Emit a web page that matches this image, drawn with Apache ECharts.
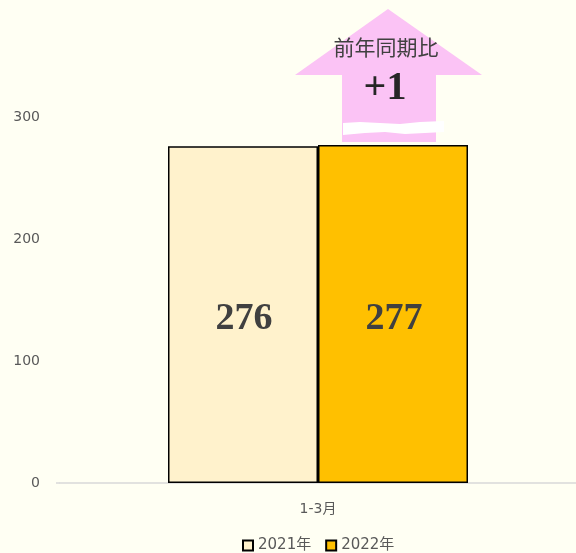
<!DOCTYPE html>
<html><head><meta charset="utf-8">
<script src="https://cdn.jsdelivr.net/npm/echarts@6/dist/echarts.min.js"></script>
<style>html,body{margin:0;padding:0;background:#FFFFF3;}#c{width:576px;height:553px;}</style>
</head><body><div id="c"></div>
<script>
const categories = ['1-3月'];
const seriesNames = ['2021年', '2022年'];
const values2021 = [276];
const values2022 = [277];
const yTicks = [0, 100, 200, 300];
const arrowTitle = '前年同期比';
const arrowValue = '+1';

const chart = echarts.init(document.getElementById('c'));
const labelStyle = {
  show: true, position: 'inside', offset: [1, 5], fontFamily: '"Liberation Serif","Times New Roman",serif',
  fontWeight: 'bold', fontSize: 38, color: '#404040'
};
chart.setOption({
  backgroundColor: '#FFFFF3',
  animation: false,
  grid: { left: 60, right: 0, top: 117, bottom: 70 },
  legend: {
    top: 533, left: 237, itemWidth: 10, itemHeight: 10, itemGap: 14,
    icon: 'rect',
    textStyle: { color: '#595959', fontSize: 15, fontFamily: '"DejaVu Sans","Noto Sans CJK JP",sans-serif' },
    data: seriesNames
  },
  xAxis: {
    type: 'category', data: categories,
    axisLine: { lineStyle: { color: '#D9D9D9', width: 1.5 } },
    axisTick: { show: false },
    axisLabel: { color: '#595959', fontSize: 14, margin: 19, fontFamily: '"DejaVu Sans","Noto Sans CJK JP",sans-serif' }
  },
  yAxis: {
    type: 'value', min: yTicks[0], max: yTicks[yTicks.length - 1], interval: 100,
    splitLine: { show: false }, axisLine: { show: false }, axisTick: { show: false },
    axisLabel: { color: '#595959', fontSize: 14, margin: 20, fontFamily: '"DejaVu Sans",sans-serif' }
  },
  series: [
    { name: seriesNames[0], type: 'bar', data: values2021, barWidth: 150, barGap: '0%',
      itemStyle: { color: '#FFF2CC', borderColor: '#000', borderWidth: 1.5 }, label: labelStyle },
    { name: seriesNames[1], type: 'bar', data: values2022, barWidth: 150,
      itemStyle: { color: '#FFC000', borderColor: '#000', borderWidth: 1.5 }, label: labelStyle }
  ],
  graphic: [
    { type: 'polygon', shape: { points: [[388, 9], [482, 75], [436, 75], [436, 142], [342, 142], [342, 75], [295, 75]] },
      style: { fill: '#FBC3F5' }, z: 1 },
    { type: 'polygon', shape: { points: [[343, 123], [360, 122], [380, 123], [400, 124], [420, 122], [444, 121],
        [444, 132], [425, 133], [405, 134], [385, 132], [365, 133], [343, 135]] },
      style: { fill: '#FFFFFF' }, z: 2 },
    { type: 'line', shape: { x1: 56, y1: 483, x2: 60, y2: 483 }, style: { stroke: '#D9D9D9', lineWidth: 1.5 }, z: 0 },
    { type: 'text', x: 386, y: 47, style: { text: arrowTitle, align: 'center', verticalAlign: 'middle',
      fontSize: 21, fill: '#404040', fontFamily: '"Noto Sans CJK JP",sans-serif' }, z: 3 },
    { type: 'text', x: 385, y: 89, style: { text: arrowValue, align: 'center', verticalAlign: 'middle',
      fontSize: 40, fontWeight: 'bold', fill: '#262626', fontFamily: '"Liberation Serif","Times New Roman",serif' }, z: 3 }
  ]
});
</script></body></html>
